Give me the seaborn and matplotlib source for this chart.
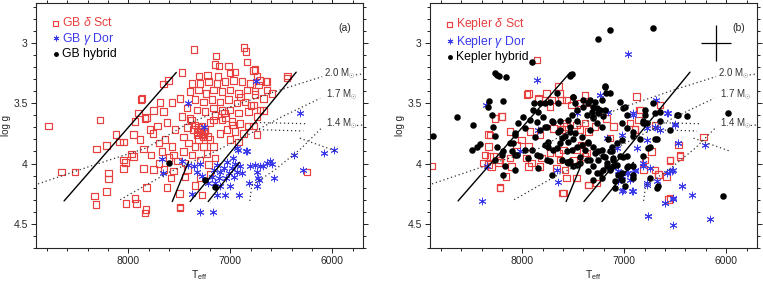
import numpy as np
import seaborn as sns
import matplotlib.pyplot as plt
from matplotlib.ticker import MultipleLocator

# ---------------- data (Teff, log g) ----------------
a_sct_teff = [7355, 7142, 6865, 6845, 6838, 7110, 7473, 7309, 7224, 7018, 6953, 6757, 6740, 6652, 6440,
              7656, 7868, 7689, 7574, 7492, 7754, 7656, 7836, 7934, 7950, 8048, 7885, 7787, 7715, 7623,
              7541, 7460, 7640, 7574, 7672, 7558, 7460, 7950, 7852, 7754, 8048, 7820, 7623, 7443, 7296,
              7918, 7826, 7492, 7345, 7280,
              7378, 7296, 7214, 7133, 7051, 6970, 6887, 6806, 6724, 6642,
              7394, 7313, 7237, 7165, 7084, 7002, 6920, 6838, 6757, 6675,
              7345, 7263, 7182, 7100, 7018, 6937, 6855, 6773, 6708,
              7427, 7329, 7247, 7165, 7084, 7002, 6920, 6822, 6740,
              7476, 7394, 7165, 7084, 6985, 6904, 6822,
              7345, 7313, 7280, 7247, 7296, 7329, 7263, 7224, 7362, 7290, 7270, 7313,
              7198, 7263, 7165, 7231, 7100, 7035, 6953, 6871, 7002, 6920, 7411, 7345, 7378, 7443, 7296,
              7214, 7149, 7198,
              8785, 8654, 8523, 8311, 8278, 8333, 8317, 8213, 8196, 8196, 8213, 8121, 8088, 8030, 8023,
              7935, 7836, 8049, 7967, 7876, 7493, 7559,
              6250, 6447, 6741, 6676, 6594, 6708, 6774,
              7900, 7820, 7760, 7700, 7600, 7520, 7850, 7780, 7700, 7650, 7580, 7500, 7420,
              7607, 7150, 7003, 6774, 6643,
              7250, 7320, 7200, 7280, 7380, 7150, 7050, 6980, 6900, 6800, 6760, 7120, 7060, 7420]
a_sct_logg = [3.055, 3.107, 3.04, 3.07, 3.157, 3.19, 3.245, 3.275, 3.27, 3.19, 3.24, 3.22, 3.275, 3.32, 3.275,
              3.34, 3.46, 3.496, 3.496, 3.46, 3.56, 3.57, 3.625, 3.65, 3.76, 3.82, 3.80, 3.72, 3.69, 3.66,
              3.72, 3.78, 3.80, 3.86, 3.90, 3.93, 3.90, 3.94, 4.04, 4.05, 4.04, 4.20, 4.20, 4.11, 4.12,
              4.33, 4.38, 4.36, 4.18, 4.26,
              3.336, 3.336, 3.32, 3.336, 3.32, 3.31, 3.32, 3.336, 3.35, 3.39,
              3.405, 3.39, 3.42, 3.39, 3.405, 3.39, 3.42, 3.39, 3.43, 3.46,
              3.47, 3.49, 3.47, 3.49, 3.47, 3.50, 3.49, 3.515, 3.556,
              3.54, 3.556, 3.57, 3.54, 3.56, 3.556, 3.58, 3.57, 3.61,
              3.61, 3.625, 3.64, 3.64, 3.65, 3.67, 3.69,
              3.68, 3.70, 3.69, 3.716, 3.735, 3.763, 3.75, 3.777, 3.72, 3.716, 3.777, 3.80,
              3.80, 3.86, 3.86, 3.915, 3.75, 3.72, 3.735, 3.75, 3.80, 3.82, 3.83, 3.86, 3.93, 3.997, 3.97,
              4.01, 3.956, 4.09,
              3.69, 4.07, 4.07, 3.88, 3.64, 4.27, 4.34, 3.85, 4.08, 4.13, 4.23, 3.76, 3.82, 3.99, 4.33,
              4.29, 4.41, 3.97, 3.92, 3.47, 4.37, 4.06,
              4.07, 3.29, 3.76, 3.56, 3.42, 3.31, 3.69,
              3.58, 3.62, 3.75, 3.83, 3.95, 3.98, 3.88, 3.93, 4.00, 4.05, 4.12, 4.25, 4.05,
              3.31, 3.18, 3.25, 3.23, 3.32,
              3.73, 3.74, 3.66, 3.76, 3.64, 3.60, 3.62, 3.68, 3.45, 3.52, 3.40, 3.28, 3.58, 3.70]

a_dor_teff = [7411, 6747, 7257, 6936, 6845, 6976, 7035, 6953, 6904, 6986, 7067, 7133, 7165, 7100, 7018,
              6937, 6887, 6969, 7041, 7116, 7182, 7224, 7329, 7355, 7296, 7411, 7476, 7672, 7662, 7280,
              7149, 7100, 7002, 6920, 7051, 7133, 7378, 7296, 7172, 6806, 6757, 6708, 6642, 6593, 6740,
              6822, 6724, 6381, 6570, 6316, 6087, 5982, 6290, 6725, 6741, 6610, 6676, 6839, 6921]
a_dor_logg = [3.496, 3.314, 3.70, 3.87, 3.90, 3.956, 3.99, 4.00, 4.02, 4.04, 4.04, 4.01, 4.05, 4.07, 4.08,
              4.07, 4.08, 4.11, 4.12, 4.12, 4.11, 4.16, 4.07, 4.02, 4.00, 4.01, 3.98, 3.96, 4.08, 4.10,
              4.16, 4.19, 4.19, 4.26, 4.26, 4.26, 4.25, 4.40, 4.40, 4.02, 4.01, 4.02, 3.997, 4.00, 4.07,
              4.16, 4.135, 3.93, 4.12, 3.584, 3.914, 3.887, 4.05, 4.12, 4.19, 3.98, 4.02, 3.90, 3.887]

a_hyb_teff = [7597, 7247, 7149]
a_hyb_logg = [3.997, 4.14, 4.198]

b_sct_teff = [7941, 7843, 7646, 7630, 7712, 7565, 7385, 7434, 7369, 7516, 7728, 6878, 6845, 6649,
              8202, 8268, 8317, 8121, 8006, 7924, 7826, 7695, 7614, 7597, 7565, 7467, 7385, 7434, 7352,
              7287, 8366, 8382, 8333, 8284, 8219, 8121, 8104, 8055, 7941, 7957, 7908, 7941, 7810, 7826,
              7728, 7646, 7630, 7597, 7663, 7581, 7499, 7467, 7418, 7385, 7565, 7467, 7352, 7270, 8219,
              7597, 7172, 7107, 7140, 6943, 6894, 6862, 6731, 6796, 6698, 6584, 6551, 6453, 6666, 6551,
              6852, 6894, 6698, 6224, 6469, 6453, 6551, 6666, 6567, 6813, 7369, 7352,
              8888, 8332, 8316, 8300, 8234, 8218, 8159, 8332, 8201, 7956, 7842, 7760, 7858, 7613, 7603]
b_sct_logg = [3.418, 3.46, 3.363, 3.418, 3.473, 3.473, 3.432, 3.50, 3.50, 3.515, 3.53, 3.446, 3.556, 3.515,
              3.61, 3.625, 3.763, 3.735, 3.804, 3.735, 3.763, 3.708, 3.72, 3.666, 3.694, 3.68, 3.666, 3.72, 3.735,
              3.694, 3.928, 3.997, 4.01, 3.942, 3.97, 3.956, 4.025, 3.845, 3.86, 3.956, 3.997, 4.025, 3.956, 4.025,
              3.914, 3.914, 3.97, 3.887, 4.038, 4.052, 3.97, 3.887, 3.845, 3.942, 4.12, 4.12, 4.176, 4.162, 4.204,
              4.245, 3.625, 3.694, 3.79, 3.666, 3.72, 3.64, 3.90, 3.97, 4.052, 4.107, 3.97, 3.928, 4.093, 4.286,
              3.556, 3.72, 3.68, 3.782, 3.845, 3.94, 3.975, 4.093, 4.30, 4.05, 3.914, 4.176,
              4.019, 3.86, 3.94, 4.024, 3.99, 4.20, 4.107, 3.76, 3.611, 3.43, 3.47, 3.42, 3.143, 3.473, 4.245]

b_dor_teff = [6959, 7858, 8355, 8398, 8349, 6763, 6517, 6158, 6338, 6436, 6599, 6517, 6550, 6517, 6468,
              6207, 6501, 6583, 6687, 7237, 6910, 6779, 6681, 6910, 7024, 6779, 6681, 6959, 6894, 6812,
              8023, 7843, 7646, 7467, 7238, 7156, 6911, 7172, 7025, 7074,
              7107, 7058, 7025, 6976, 6943, 6894, 7058, 7009, 6927, 6813, 6747, 6780, 6584, 6535, 6437,
              6600, 6518, 6698, 6649, 6568, 6469, 6502, 6780, 6878, 6764, 7663]
b_dor_logg = [3.096, 3.31, 3.515, 4.314, 4.024, 4.438, 4.507, 4.46, 4.26, 4.184, 4.327, 4.294, 4.066, 4.052, 3.83,
              3.85, 3.67, 3.584, 3.47, 3.43, 3.584, 3.708, 3.708, 4.23, 4.23, 4.176, 4.148, 4.08, 4.066, 4.024,
              3.90, 3.72, 4.149, 3.584, 3.432, 3.57, 3.598, 3.79, 3.763, 3.873,
              4.025, 4.066, 4.107, 4.08, 4.135, 4.052, 4.148, 4.217, 4.23, 3.997, 4.038, 4.162, 4.08, 4.066, 4.19,
              4.327, 4.286, 3.694, 3.72, 3.584, 3.83, 3.68, 3.804, 3.873, 4.437, 4.052]

b_hyb_teff = [8872, 8636, 8486, 8496, 8447, 8414, 8322, 8332, 8300, 8267, 8244, 8224, 8159, 8185, 8283,
              8267, 8250, 8201, 8267, 8185, 8169, 8103, 8087, 8071, 8054, 8074, 7907, 7989, 7924, 7891,
              7826, 7884, 7907, 7793, 7858, 7777, 7695, 7630, 7744, 7695, 7826, 7760, 7630, 7580, 7564,
              7613, 7711, 7531, 7515, 7505, 7508, 7531, 7482, 7466, 7548, 7498, 7433, 7498, 7417, 7400,
              7351, 7302, 7367, 7302, 7237, 7188, 7181, 7220, 7253, 7139, 6714, 7270, 7220, 7335, 7351,
              7302, 7253, 7204, 7139, 7106, 7041, 7172, 7106, 7237, 7302, 7367, 7123, 7074, 7155, 7024,
              7090, 6959, 6975, 6910, 6812, 6746, 6697, 6845, 6910, 6779, 6812, 6975, 7024, 6992, 6910,
              6795, 6714, 6648, 6681, 6681, 6468, 6386, 5978, 6027, 6910, 6992, 7024,
              7843, 7777, 7728, 7646, 7663, 7499, 7483, 7467, 7401, 7336, 7287, 7270, 7320, 7254, 7189,
              7140, 7042, 7009, 7189, 7205, 7303, 7467, 7548, 7630, 7712, 7761, 7826, 7875, 7973, 8039,
              8072, 8121, 8186, 8072, 7973, 7941, 7859, 7843, 7777, 7646, 7614, 7663, 7728, 7745, 7532,
              7548, 7516, 7532, 7565, 7467, 7418, 7352, 7385, 7434, 7336, 7287, 7254, 7221, 7189, 7172,
              7123, 7107, 7074, 7140, 7205, 7270, 7352, 7303, 7221, 7058, 7009, 6976, 6911, 7025, 7091,
              6976, 6813, 6796, 6698, 6649, 6551, 6486, 6764, 6747, 6666]
b_hyb_logg = [3.776, 3.617, 3.68, 3.887, 3.86, 3.837, 3.48, 3.53, 3.60, 3.25, 3.27, 3.275, 3.286, 3.48, 3.694,
              3.776, 3.86, 3.93, 3.97, 4.093, 4.024, 3.90, 3.83, 3.75, 3.93, 4.05, 3.89, 3.611, 3.64, 3.556,
              3.50, 3.495, 3.162, 3.611, 3.66, 3.694, 3.66, 3.72, 3.82, 3.887, 3.94, 3.97, 3.83, 3.776, 3.90,
              3.97, 4.093, 3.275, 3.26, 3.45, 3.597, 3.694, 3.75, 3.86, 3.997, 4.024, 3.997, 3.80, 3.85, 3.47,
              3.50, 3.534, 3.597, 3.611, 3.556, 3.36, 3.418, 3.473, 2.964, 2.895, 2.873, 3.666, 3.694, 3.72, 3.818,
              3.86, 3.90, 3.94, 3.90, 3.97, 3.94, 4.024, 4.024, 4.08, 4.024, 3.97, 3.86, 3.83, 3.80, 4.08,
              4.148, 4.024, 3.94, 4.024, 3.94, 3.86, 3.80, 3.80, 3.776, 3.666, 3.666, 3.597, 3.666, 3.53, 3.735,
              3.556, 3.50, 3.65, 3.80, 4.203, 3.597, 3.606, 3.578, 4.27, 4.12, 4.19, 4.135,
              3.57, 3.50, 3.49, 3.50, 3.418, 3.446, 3.50, 3.556, 3.53, 3.47, 3.487, 3.54, 3.57, 3.584, 3.363,
              3.418, 3.487, 3.54, 3.556, 3.61, 3.625, 3.65, 3.64, 3.65, 3.65, 3.694, 3.72, 3.777, 3.708, 3.666,
              3.763, 3.832, 3.90, 3.928, 3.887, 3.956, 3.928, 4.038, 3.845, 3.735, 3.79, 3.873, 3.983, 3.86, 3.735,
              3.818, 3.887, 3.983, 3.99, 4.01, 3.777, 3.832, 3.887, 3.942, 3.97, 3.914, 3.97, 3.887, 3.942, 3.997,
              3.90, 3.956, 4.01, 4.05, 4.05, 4.08, 4.066, 4.135, 4.12, 4.093, 3.942, 4.025, 4.093, 3.804, 4.204,
              3.708, 3.65, 3.598, 3.584, 3.57, 3.72, 3.598, 3.873, 4.12, 4.19]

# instability strip edges (solid lines)
strip_teff = [[8630, 7530], [7395, 6355], [7570, 7410], [7218, 6910]]
strip_logg = [[4.31, 3.245], [4.315, 3.243], [4.315, 3.985], [4.315, 3.99]]

# evolutionary tracks (dotted lines)
track_teff = [[8960, 8400, 7820, 7420, 7000, 6513, 6100], [5770, 5700],
              [8080, 7620, 7150, 6800, 6513, 6120],
              [6810, 6790, 6560, 6300, 6100], [5760, 5700],
              [6750, 6260], [6720, 6285], [6320, 5955]]
track_logg = [[4.19, 4.03, 3.87, 3.67, 3.53, 3.39, 3.28], [3.265, 3.258],
              [4.30, 4.08, 3.90, 3.75, 3.62, 3.46],
              [4.31, 4.18, 4.05, 3.87, 3.70], [3.685, 3.68],
              [3.66, 3.67], [3.72, 3.73], [3.79, 3.90]]
mass_labels = ["2.0 M$_{\\odot}$", "1.7 M$_{\\odot}$", "1.4 M$_{\\odot}$"]
mass_label_teff = [6080, 6065, 6065]
mass_label_logg = [3.255, 3.43, 3.67]

RED = "#e8403f"
BLUE = "#3a3aeb"

sns.set_style("ticks")
plt.rcParams["font.family"] = ["Liberation Sans", "DejaVu Sans"]
plt.rcParams["mathtext.fontset"] = "custom"
plt.rcParams["mathtext.rm"] = "Liberation Sans"
plt.rcParams["mathtext.it"] = "Liberation Sans:italic"


def draw_panel(ax, sct, dor, hyb, prefix, tag):
    sns.scatterplot(x=sct[0], y=sct[1], ax=ax, marker="s", s=22, color=RED,
                    facecolors="none", edgecolors=RED, linewidth=0.85,
                    label=prefix + " $\\delta$ Sct")
    sns.scatterplot(x=dor[0], y=dor[1], ax=ax, marker=(6, 2, 0), s=24, color=BLUE,
                    linewidth=0.65, label=prefix + " $\\gamma$ Dor")
    sns.scatterplot(x=hyb[0], y=hyb[1], ax=ax, marker="o", s=22, color="black",
                    edgecolor="black", linewidth=0, label=prefix + " hybrid")

    for t, g in zip(strip_teff, strip_logg):
        ax.plot(t, g, color="black", lw=1.0)
    for t, g in zip(track_teff, track_logg):
        ax.plot(t, g, color="#333333", lw=0.9, linestyle=(0, (1, 2.2)))
    for lab, t, g in zip(mass_labels, mass_label_teff, mass_label_logg):
        ax.text(t, g, lab, fontsize=7, color="#333333", ha="left", va="center")

    ax.set_xlim(8905, 5700)
    ax.set_ylim(4.70, 2.67)
    ax.xaxis.set_major_locator(MultipleLocator(1000))
    ax.xaxis.set_minor_locator(MultipleLocator(200))
    ax.yaxis.set_minor_locator(MultipleLocator(0.1))
    ax.set_yticks([3, 3.5, 4, 4.5])
    ax.set_yticklabels(["3", "3.5", "4", "4.5"])
    ax.tick_params(which="both", direction="out", top=True, right=True,
                   labelsize=7.5, width=0.7, color="#222222", pad=2.5)
    ax.tick_params(which="major", length=3.5)
    ax.tick_params(which="minor", length=2.5)
    for sp in ax.spines.values():
        sp.set_linewidth(0.8)
    ax.set_xlabel("T$_{\\rm eff}$", fontsize=7.5, labelpad=1)
    ax.set_ylabel("log g", fontsize=7, labelpad=2)
    ax.text(0.945, 0.90, tag, transform=ax.transAxes, fontsize=7.5, ha="center", va="center")
    ax.legend(loc="upper left", frameon=False, fontsize=8.8, handletextpad=0.05,
              labelspacing=0.1, borderaxespad=0.9, borderpad=0.2, handlelength=1.0,
              markerscale=0.75, labelcolor=[RED, BLUE, "black"])


fig = plt.figure(figsize=(7.63, 2.85), dpi=100)
ax1 = fig.add_axes([0.0472, 0.1298, 0.4286, 0.8596])
ax2 = fig.add_axes([0.5636, 0.1298, 0.4282, 0.8596])

draw_panel(ax1, (a_sct_teff, a_sct_logg), (a_dor_teff, a_dor_logg), (a_hyb_teff, a_hyb_logg), "GB", "(a)")
draw_panel(ax2, (b_sct_teff, b_sct_logg), (b_dor_teff, b_dor_logg), (b_hyb_teff, b_hyb_logg), "Kepler", "(b)")

# typical error bar in panel b
ax2.errorbar([6100], [3.0], xerr=[150], yerr=[0.15], color="black", lw=0.9, capsize=0)

fig.savefig("out.png", dpi=100)
